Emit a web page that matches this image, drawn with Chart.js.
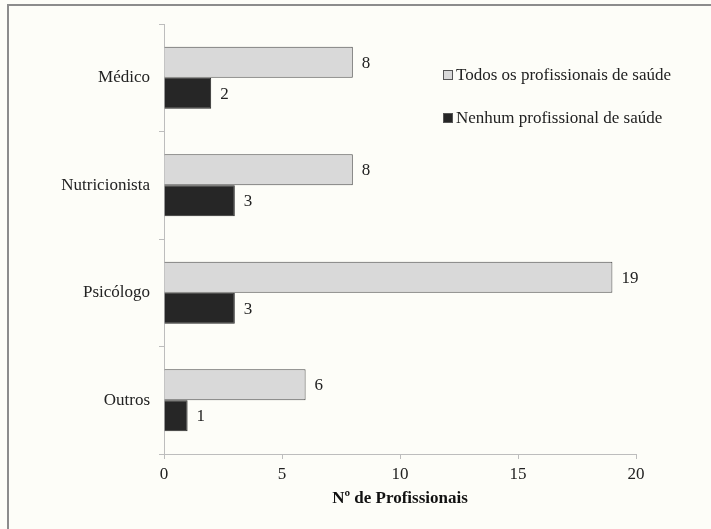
<!DOCTYPE html>
<html>
<head>
<meta charset="utf-8">
<script src="https://cdn.jsdelivr.net/npm/chart.js@4/dist/chart.umd.min.js"></script>
<style>
  body { margin: 0; background: #fdfdf8; }
  #wrap { position: relative; width: 711px; height: 529px; }
  #frame { position: absolute; left: 7px; top: 4px; right: -10px; bottom: -10px;
           border-left: 2px solid #8c8c8c; border-top: 2px solid #8c8c8c; }
  canvas { position: absolute; left: 0; top: 0; }
</style>
</head>
<body>
<div id="wrap">
  <div id="frame"></div>
  <canvas id="chart" width="711" height="529"></canvas>
</div>
<script>
// dados
const categorias = ['Médico', 'Nutricionista', 'Psicólogo', 'Outros'];
const todos = [8, 8, 19, 6];
const nenhum = [2, 3, 3, 1];
const xTicks = [0, 5, 10, 15, 20];

const serif = '"Liberation Serif", "DejaVu Serif", serif';

// rótulos de valor ao lado das barras
const valueLabels = {
  id: 'valueLabels',
  afterDatasetsDraw(chart) {
    const ctx = chart.ctx;
    ctx.save();
    ctx.font = '17px ' + serif;
    ctx.fillStyle = '#222';
    ctx.textBaseline = 'middle';
    chart.data.datasets.forEach((ds, i) => {
      chart.getDatasetMeta(i).data.forEach((bar, j) => {
        ctx.fillText(String(ds.data[j]), bar.x + 9, bar.y + 1);
      });
    });
    ctx.restore();
  }
};

// legenda dentro da área do gráfico
const innerLegend = {
  id: 'innerLegend',
  afterDraw(chart) {
    const ctx = chart.ctx;
    ctx.save();
    ctx.font = '17px ' + serif;
    ctx.textBaseline = 'middle';
    chart.data.datasets.forEach((ds, i) => {
      const y = 75 + i * 43;
      ctx.fillStyle = ds.backgroundColor;
      ctx.fillRect(443, y - 5, 10, 10);
      ctx.strokeStyle = '#555';
      ctx.lineWidth = 1;
      ctx.strokeRect(443.5, y - 4.5, 9, 9);
      ctx.fillStyle = '#222';
      ctx.fillText(ds.label, 456, y + 1);
    });
    ctx.restore();
  }
};

new Chart(document.getElementById('chart'), {
  type: 'bar',
  data: {
    labels: categorias,
    datasets: [
      {
        label: 'Todos os profissionais de saúde',
        data: todos,
        backgroundColor: '#d9d9d9',
        borderColor: '#4a4a4a',
        borderWidth: 1,
        categoryPercentage: 0.577,
        barPercentage: 1
      },
      {
        label: 'Nenhum profissional de saúde',
        data: nenhum,
        backgroundColor: '#262626',
        borderColor: '#262626',
        borderWidth: 1,
        categoryPercentage: 0.577,
        barPercentage: 1
      }
    ]
  },
  options: {
    indexAxis: 'y',
    responsive: false,
    animation: false,
    layout: { padding: { left: 0, top: 24, right: 75, bottom: 20 } },
    plugins: {
      legend: { display: false },
      tooltip: { enabled: false }
    },
    scales: {
      x: {
        min: 0,
        max: 20,
        afterFit(scale) { scale.height = 55; },
        afterBuildTicks(scale) { scale.ticks = xTicks.map(v => ({ value: v })); },
        grid: { drawOnChartArea: false, drawTicks: true, tickLength: 5, color: '#bdbdbd' },
        border: { color: '#bdbdbd' },
        ticks: { font: { family: serif, size: 17 }, color: '#222', padding: 5 },
        title: {
          display: true,
          text: 'Nº de Profissionais',
          font: { family: serif, size: 17, weight: 'bold' },
          color: '#111',
          padding: { top: 2, bottom: 0 }
        }
      },
      y: {
        afterFit(scale) { scale.width = 164; },
        grid: { drawOnChartArea: false, drawTicks: true, tickLength: 5, color: '#bdbdbd', offset: true },
        border: { color: '#bdbdbd' },
        ticks: { font: { family: serif, size: 17 }, color: '#222', padding: 9 }
      }
    }
  },
  plugins: [valueLabels, innerLegend]
});
</script>
</body>
</html>
